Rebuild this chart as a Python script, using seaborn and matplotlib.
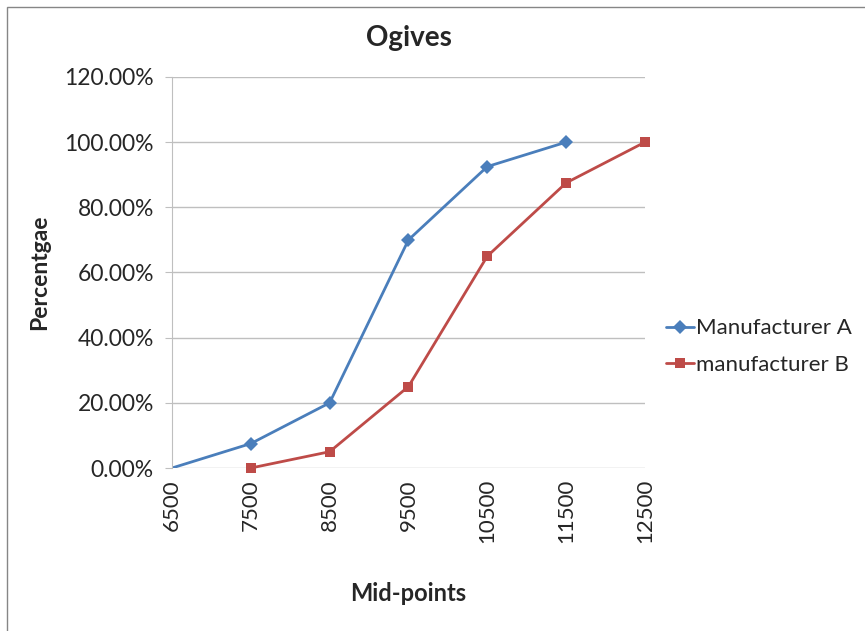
import numpy as np
import pandas as pd
import seaborn as sns
import matplotlib.pyplot as plt
from matplotlib.patches import Rectangle
from matplotlib.ticker import PercentFormatter

# data
mid_points = [6500, 7500, 8500, 9500, 10500, 11500, 12500]
x_a = [6500, 7500, 8500, 9500, 10500, 11500]
pct_a = [0.0, 7.5, 20.0, 70.0, 92.5, 100.0]
x_b = [7500, 8500, 9500, 10500, 11500, 12500]
pct_b = [0.0, 5.0, 25.0, 65.0, 87.5, 100.0]
y_ticks = [0, 20, 40, 60, 80, 100, 120]

df = pd.concat([
    pd.DataFrame({"mid": x_a, "pct": pct_a, "series": "Manufacturer A"}),
    pd.DataFrame({"mid": x_b, "pct": pct_b, "series": "manufacturer B"}),
])

sns.set_style("white")
plt.rcParams["font.family"] = ["Lato", "DejaVu Sans"]

fig = plt.figure(figsize=(8.65, 6.31), dpi=100)
ax = fig.add_axes([0.1988, 0.2583, 0.5468, 0.6197])

# chart border (right and bottom edges run off the picture)
fig.patches.append(Rectangle((0.008, -0.1), 1.2, 1.089, transform=fig.transFigure,
                             fill=False, edgecolor="#868686", linewidth=1.0))

palette = {"Manufacturer A": "#4A7EBB", "manufacturer B": "#BE4B48"}
sns.lineplot(data=df, x="mid", y="pct", hue="series", style="series",
             markers={"Manufacturer A": "D", "manufacturer B": "s"},
             dashes=False, palette=palette, linewidth=2, markersize=7,
             markeredgewidth=0, ax=ax)

# no marker on A's starting point, B's last marker sits on the edge
ax.lines[0].set_markevery(list(range(1, len(x_a))))
ax.lines[1].set_clip_on(False)

ax.set_xlim(6500, 12500)
ax.set_ylim(0, 120)
ax.set_xticks(mid_points)
ax.set_xticklabels([str(m) for m in mid_points], rotation=90, fontsize=16)
ax.set_yticks(y_ticks)
ax.yaxis.set_major_formatter(PercentFormatter(decimals=2))
ax.tick_params(axis="y", labelsize=16.5, length=5, color="#BFBFBF", pad=8, left=True)
ax.tick_params(axis="x", length=0, pad=8)
ax.grid(axis="y", color="#BFBFBF", linewidth=1)
for s in ["top", "right", "bottom"]:
    ax.spines[s].set_visible(False)
ax.spines["left"].set_color("#BFBFBF")

ax.set_title("Ogives", fontsize=20, fontweight="bold", pad=22)
ax.set_xlabel("Mid-points", fontsize=17, fontweight="bold", labelpad=28)
ax.set_ylabel("Percentgae", fontsize=16.5, fontweight="bold", labelpad=10)

ax.legend(loc="center left", bbox_to_anchor=(1.045, 0.31), frameon=False,
          fontsize=16, handlelength=1.25, handletextpad=0.1, labelspacing=0.75,
          borderaxespad=0, borderpad=0)

fig.savefig("out.png", dpi=100)
